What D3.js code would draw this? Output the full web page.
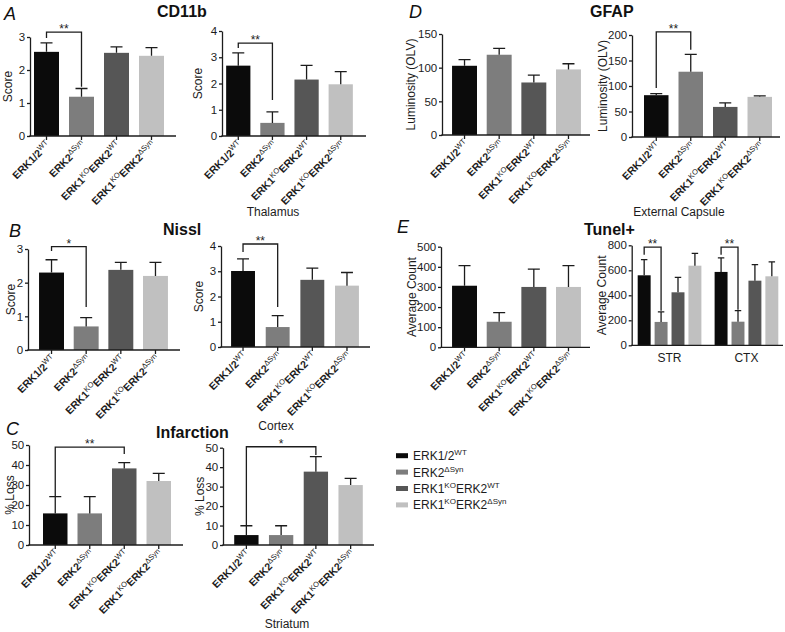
<!DOCTYPE html>
<html><head><meta charset="utf-8">
<script src="https://cdn.jsdelivr.net/npm/d3@7"></script>
<style>body{margin:0;background:#fff} text{font-family:"Liberation Sans",Arial,Helvetica,sans-serif}</style>
</head><body><svg id="c" width="785" height="632"></svg>
<script>
// ---------- data ----------
const groups = ["ERK1/2 WT", "ERK2 ΔSyn", "ERK1 KO ERK2 WT", "ERK1 KO ERK2 ΔSyn"];
const groupLabelParts = [
  [["ERK1/2", false], ["WT", true]],
  [["ERK2", false], ["ΔSyn", true]],
  [["ERK1", false], ["KO", true], ["ERK2", false], ["WT", true]],
  [["ERK1", false], ["KO", true], ["ERK2", false], ["ΔSyn", true]]
];
const groupColors = ["#0b0b0b", "#7d7d7d", "#565656", "#c0c0c0"];

const cd11bLeftMean = [2.55, 1.19, 2.52, 2.43];
const cd11bLeftSem  = [0.27, 0.25, 0.18, 0.25];
const cd11bThalMean = [2.68, 0.50, 2.15, 1.97];
const cd11bThalSem  = [0.49, 0.42, 0.54, 0.48];

const gfapLeftMean = [102.8, 119.2, 78.0, 97.4];
const gfapLeftSem  = [9.0, 9.5, 11.0, 8.4];
const gfapCapMean  = [82.0, 128.0, 59.0, 78.7];
const gfapCapSem   = [3.2, 34.0, 7.9, 2.0];

const nisslLeftMean = [2.30, 0.70, 2.38, 2.20];
const nisslLeftSem  = [0.38, 0.26, 0.22, 0.40];
const nisslCtxMean  = [3.01, 0.79, 2.66, 2.43];
const nisslCtxSem   = [0.48, 0.45, 0.46, 0.52];

const tunelLeftMean = [306, 127, 300, 300];
const tunelLeftSem  = [100, 45, 89, 106];
const tunelRegions  = ["STR", "CTX"];
const tunelStrMean  = [560, 187, 424, 637];
const tunelStrSem   = [125, 80, 120, 99];
const tunelCtxMean  = [587, 189, 517, 552];
const tunelCtxSem   = [112, 88, 128, 115];

const infLeftMean = [15.8, 15.8, 38.3, 32.0];
const infLeftSem  = [8.4, 8.4, 2.9, 3.8];
const infStrMean  = [5.1, 5.1, 37.7, 30.8];
const infStrSem   = [4.8, 4.8, 7.7, 3.4];

const ticks3 = [0, 1, 2, 3];
const ticks4 = [0, 1, 2, 3, 4];
const ticks150 = [0, 50, 100, 150];
const ticks200 = [0, 50, 100, 150, 200];
const ticks500 = [0, 100, 200, 300, 400, 500];
const ticks800 = [0, 200, 400, 600, 800];
const ticks50 = [0, 10, 20, 30, 40, 50];

// brackets: [fromIndex, toIndex, label, topValue, leftEndValue, rightEndValue]
const cd11bLeftSig = [[0, 1, "**", 3.15, 2.97, 1.49]];
const cd11bThalSig = [[0, 1, "**", 3.54, 3.35, 1.37]];
const gfapCapSig   = [[0, 1, "**", 206, 96, 171]];
const nisslLeftSig = [[0, 1, "*", 3.07, 2.94, 1.28]];
const nisslCtxSig  = [[0, 1, "**", 4.08, 3.76, 1.58]];
const infLeftSig   = [[0, 2, "**", 48.9, 24.4, 45.5]];
const infStrSig    = [[0, 2, "*", 50.5, 10.3, 46.2]];
const tunelSig     = [["STR", 0, 1, "**", 786, 725, 277], ["CTX", 0, 1, "**", 786, 725, 285]];

// ---------- drawing ----------
const svg = d3.select("#c");
svg.append("rect").attr("width", 785).attr("height", 632).attr("fill", "#fff");
const INK = "#1c1c1c";
const LW = 1.3;

function addRich(sel, parts, base, sup, raise, boldMain) {
  let off = 0;
  parts.forEach(([s, isSup]) => {
    const target = isSup ? -raise : 0;
    sel.append("tspan").text(s)
      .attr("dy", target - off)
      .attr("font-size", isSup ? sup : base)
      .attr("font-weight", (!isSup && boldMain) ? "bold" : "normal");
    off = target;
  });
}

function yAxis(g, y, cfg) {
  const ax = d3.axisLeft(y).tickValues(cfg.ticks).tickFormat(d3.format("d"))
    .tickSize(3).tickSizeOuter(0).tickPadding(1.8);
  const a = g.append("g").attr("transform", `translate(${cfg.axisX},0)`).call(ax);
  a.select(".domain").attr("stroke", INK).attr("stroke-width", LW);
  a.selectAll(".tick line").attr("stroke", INK).attr("stroke-width", LW);
  a.selectAll(".tick text").attr("font-size", 11.5).attr("fill", INK)
    .attr("font-family", '"Liberation Sans",Arial,sans-serif');
  g.append("line").attr("x1", cfg.axisX - LW / 2).attr("x2", cfg.xEnd)
    .attr("y1", cfg.y0).attr("y2", cfg.y0).attr("stroke", INK).attr("stroke-width", LW);
  g.append("text").attr("transform", `translate(${cfg.ylabX},${(cfg.y0 + cfg.yTop) / 2}) rotate(-90)`)
    .attr("text-anchor", "middle").attr("font-size", 12).attr("fill", INK).text(cfg.ylabel);
}

function drawBar(g, cx, bw, y, mean, sem, color) {
  g.append("rect").attr("x", cx - bw / 2).attr("width", bw)
    .attr("y", y(mean)).attr("height", y(0) - y(mean)).attr("fill", color);
  const cw = Math.min(12, bw * 0.5);
  g.append("path").attr("d", `M${cx},${y(mean)}V${y(mean + sem)}M${cx - cw / 2},${y(mean + sem)}H${cx + cw / 2}`)
    .attr("stroke", INK).attr("stroke-width", LW).attr("fill", "none");
}

function drawBracket(g, xl, xr, y, b) {
  const [, , label, top, le, re] = b;
  g.append("path").attr("d", `M${xl},${y(le)}V${y(top)}H${xr}V${y(re)}`)
    .attr("stroke", INK).attr("stroke-width", LW).attr("fill", "none");
  g.append("text").attr("x", (xl + xr) / 2).attr("y", y(top) + 1).attr("text-anchor", "middle")
    .attr("font-size", 12).attr("fill", INK).text(label);
}

function barPanel(cfg) {
  const g = svg.append("g");
  const x = d3.scaleBand().domain(groups).range(cfg.band).paddingInner(cfg.pad).paddingOuter(cfg.pad / 2);
  const y = d3.scaleLinear().domain([0, cfg.yMax]).range([cfg.y0, cfg.yTop]);
  const bw = x.bandwidth();
  groups.forEach((gr, i) => {
    drawBar(g, x(gr) + bw / 2, bw, y, cfg.mean[i], cfg.sem[i], groupColors[i]);
  });
  yAxis(g, y, cfg);
  groups.forEach((gr, i) => {
    const cx = x(gr) + bw / 2;
    g.append("line").attr("x1", cx).attr("x2", cx).attr("y1", cfg.y0).attr("y2", cfg.y0 + 4)
      .attr("stroke", INK).attr("stroke-width", LW);
    const t = g.append("text").attr("transform", `translate(${cx + 4.5},${cfg.y0 + 9.5}) rotate(-45)`)
      .attr("text-anchor", "end").attr("fill", INK);
    addRich(t, groupLabelParts[i], 10.5, 7.5, 4, true);
  });
  (cfg.sig || []).forEach(b => {
    drawBracket(g, x(groups[b[0]]) + bw / 2, x(groups[b[1]]) + bw / 2, y, b);
  });
  if (cfg.sub) g.append("text").attr("x", cfg.sub[1]).attr("y", cfg.sub[2]).attr("text-anchor", "middle")
    .attr("font-size", 12).attr("fill", INK).text(cfg.sub[0]);
}

// Panel A
barPanel({axisX: 30, xEnd: 176, yTop: 37, y0: 136, yMax: 3, ticks: ticks3, band: [29, 169], pad: 0.286,
  mean: cd11bLeftMean, sem: cd11bLeftSem, ylabel: "Score", ylabX: 12, sig: cd11bLeftSig});
barPanel({axisX: 222, xEnd: 366, yTop: 31, y0: 136, yMax: 4, ticks: ticks4, band: [221.2, 357.8], pad: 0.29,
  mean: cd11bThalMean, sem: cd11bThalSem, ylabel: "Score", ylabX: 202, sig: cd11bThalSig, sub: ["Thalamus", 273, 216]});
// Panel D
barPanel({axisX: 442, xEnd: 590, yTop: 34, y0: 135, yMax: 150, ticks: ticks150, band: [447.2, 585.8], pad: 0.28,
  mean: gfapLeftMean, sem: gfapLeftSem, ylabel: "Luminosity (OLV)", ylabX: 415, sig: []});
barPanel({axisX: 632, xEnd: 780, yTop: 35, y0: 137, yMax: 200, ticks: ticks200, band: [639, 777], pad: 0.29,
  mean: gfapCapMean, sem: gfapCapSem, ylabel: "Luminosity (OLV)", ylabX: 607, sig: gfapCapSig, sub: ["External Capsule", 679, 216]});
// Panel B
barPanel({axisX: 28, xEnd: 180, yTop: 249, y0: 350, yMax: 3, ticks: ticks3, band: [34.2, 172.8], pad: 0.28,
  mean: nisslLeftMean, sem: nisslLeftSem, ylabel: "Score", ylabX: 15, sig: nisslLeftSig});
barPanel({axisX: 221, xEnd: 370, yTop: 246, y0: 347, yMax: 4, ticks: ticks4, band: [225.7, 364.3], pad: 0.31,
  mean: nisslCtxMean, sem: nisslCtxSem, ylabel: "Score", ylabX: 203, sig: nisslCtxSig, sub: ["Cortex", 276, 430]});
// Panel E left
barPanel({axisX: 441, xEnd: 590, yTop: 246.7, y0: 347.3, yMax: 500, ticks: ticks500, band: [447.2, 585.8], pad: 0.28,
  mean: tunelLeftMean, sem: tunelLeftSem, ylabel: "Average Count", ylabX: 416});
// Panel C
barPanel({axisX: 29, xEnd: 183, yTop: 445, y0: 545, yMax: 50, ticks: ticks50, band: [38, 176], pad: 0.29,
  mean: infLeftMean, sem: infLeftSem, ylabel: "% Loss", ylabX: 14, sig: infLeftSig});
barPanel({axisX: 223, xEnd: 374, yTop: 447.7, y0: 545, yMax: 50, ticks: ticks50, band: [229, 368], pad: 0.3,
  mean: infStrMean, sem: infStrSem, ylabel: "% Loss", ylabX: 204, sig: infStrSig, sub: ["Striatum", 287, 628]});

// Panel E right (grouped)
(function () {
  const cfg = {axisX: 631.7, xEnd: 783, yTop: 245.3, y0: 345.3, yMax: 800, ticks: ticks800,
    ylabel: "Average Count", ylabX: 606};
  const g = svg.append("g");
  const x0 = d3.scaleBand().domain(tunelRegions).range([635.7, 780.3]).paddingInner(0.12).paddingOuter(0);
  const x1 = d3.scaleBand().domain(groups).range([0, x0.bandwidth()]).paddingInner(0.235).paddingOuter(0.118);
  const y = d3.scaleLinear().domain([0, cfg.yMax]).range([cfg.y0, cfg.yTop]);
  const means = {STR: tunelStrMean, CTX: tunelCtxMean};
  const sems = {STR: tunelStrSem, CTX: tunelCtxSem};
  const bw = x1.bandwidth();
  tunelRegions.forEach(r => {
    groups.forEach((gr, i) => {
      drawBar(g, x0(r) + x1(gr) + bw / 2, bw, y, means[r][i], sems[r][i], groupColors[i]);
    });
    g.append("text").attr("x", x0(r) + x0.bandwidth() / 2).attr("y", 362).attr("text-anchor", "middle")
      .attr("font-size", 12).attr("fill", INK).text(r);
  });
  yAxis(g, y, cfg);
  tunelSig.forEach(b => {
    const [r, i, j, label, top, le, re] = b;
    drawBracket(g, x0(r) + x1(groups[i]) + bw / 2, x0(r) + x1(groups[j]) + bw / 2, y, [i, j, label, top, le, re]);
  });
})();

// titles
[["CD11b", 157, 17], ["GFAP", 590, 17], ["Nissl", 163, 235], ["Tunel+", 584, 235], ["Infarction", 156, 438]]
  .forEach(([t, x, y]) => svg.append("text").attr("x", x).attr("y", y).attr("font-size", 16)
    .attr("font-weight", "bold").attr("fill", "#111").text(t));
[["A", 4, 20], ["D", 409, 18], ["B", 9, 237], ["E", 397, 233], ["C", 6, 435]]
  .forEach(([t, x, y]) => svg.append("text").attr("x", x).attr("y", y).attr("font-size", 18)
    .attr("font-style", "italic").attr("fill", "#111").text(t));

// legend
const legend = svg.append("g");
groups.forEach((gr, i) => {
  const cy = 455.7 + i * 16.4;
  legend.append("rect").attr("x", 396).attr("y", cy - 2.5).attr("width", 12).attr("height", 5).attr("fill", groupColors[i]);
  const t = legend.append("text").attr("x", 413).attr("y", cy + 4.5).attr("fill", INK);
  addRich(t, groupLabelParts[i], 12, 8, 5, false);
});
</script>
</body></html>
